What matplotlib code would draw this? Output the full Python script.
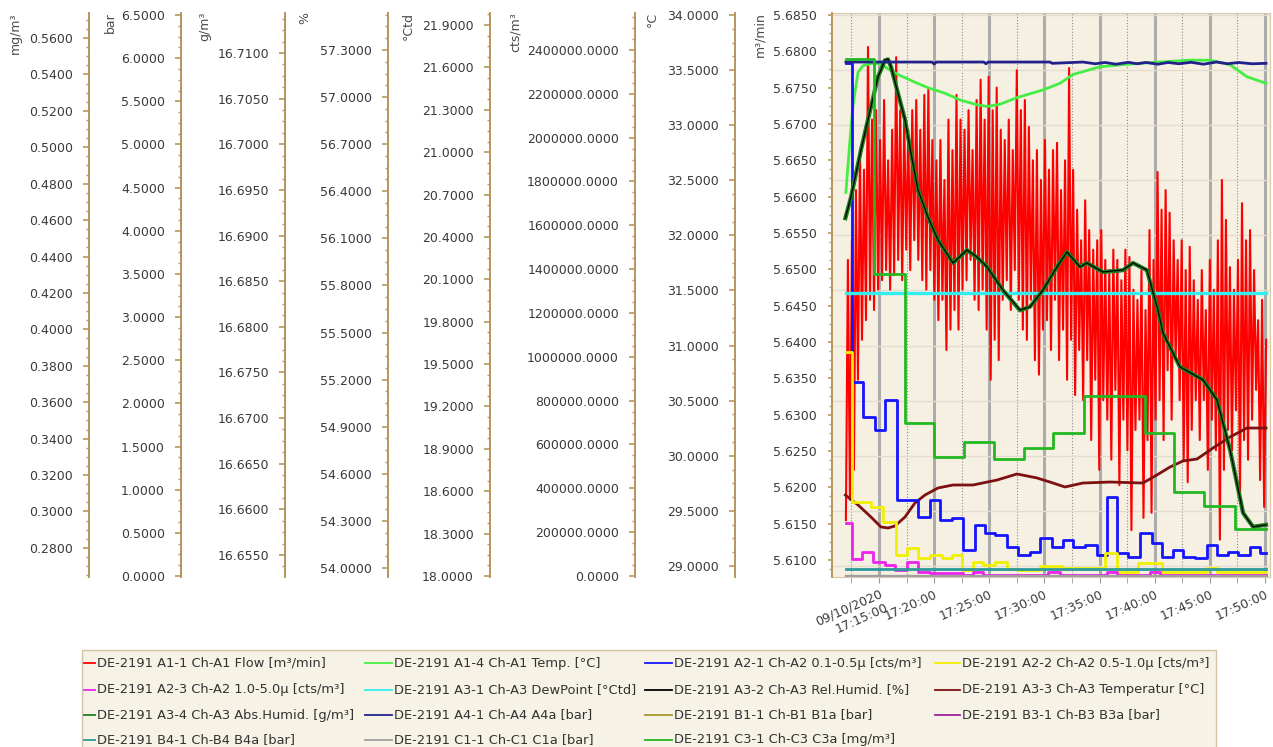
import numpy as np
import matplotlib
matplotlib.use('Agg')
import matplotlib.pyplot as plt
from matplotlib.lines import Line2D
from matplotlib.patches import Rectangle
from matplotlib.ticker import MultipleLocator, AutoMinorLocator, FormatStrFormatter, FixedLocator

# ---------------- data (time in minutes after 17:00) ----------------
x_ticks = [15, 20, 25, 30, 35, 40, 45, 50]
x_labels = ['09/10/2020\n17:15:00', '17:20:00', '17:25:00', '17:30:00',
            '17:35:00', '17:40:00', '17:45:00', '17:50:00']

# A1-1 Flow [m3/min], sampled evenly from 17:12:00 to 17:50:06
flow = [
    5.6155, 5.6513, 5.6183, 5.6540, 5.6224, 5.6609, 5.6348, 5.6664, 5.6403, 5.6637,
    5.6430, 5.6806, 5.6458, 5.6706, 5.6444, 5.6719, 5.6472, 5.6678, 5.6485, 5.6733,
    5.6499, 5.6650, 5.6472, 5.6692, 5.6492, 5.6792, 5.6513, 5.6719, 5.6485, 5.6706,
    5.6527, 5.6692, 5.6499, 5.6719, 5.6540, 5.6733, 5.6513, 5.6692, 5.6485, 5.6740,
    5.6472, 5.6747, 5.6499, 5.6678, 5.6458, 5.6650, 5.6430, 5.6678, 5.6458, 5.6623,
    5.6389, 5.6706, 5.6417, 5.6664, 5.6444, 5.6740, 5.6417, 5.6706, 5.6472, 5.6692,
    5.6485, 5.6719, 5.6513, 5.6664, 5.6458, 5.6733, 5.6444, 5.6761, 5.6472, 5.6706,
    5.6417, 5.6765, 5.6348, 5.6719, 5.6403, 5.6750, 5.6375, 5.6692, 5.6458, 5.6678,
    5.6485, 5.6706, 5.6444, 5.6664, 5.6499, 5.6774, 5.6458, 5.6719, 5.6417, 5.6733,
    5.6403, 5.6696, 5.6458, 5.6650, 5.6375, 5.6664, 5.6355, 5.6623, 5.6417, 5.6678,
    5.6430, 5.6637, 5.6389, 5.6664, 5.6458, 5.6674, 5.6375, 5.6609, 5.6417, 5.6650,
    5.6348, 5.6777, 5.6403, 5.6637, 5.6327, 5.6582, 5.6389, 5.6540, 5.6320, 5.6595,
    5.6375, 5.6554, 5.6265, 5.6527, 5.6348, 5.6540, 5.6224, 5.6554, 5.6320, 5.6513,
    5.6293, 5.6499, 5.6238, 5.6527, 5.6334, 5.6513, 5.6203, 5.6485, 5.6293, 5.6527,
    5.6251, 5.6517, 5.6141, 5.6472, 5.6279, 5.6458, 5.6293, 5.6499, 5.6158, 5.6444,
    5.6265, 5.6554, 5.6165, 5.6513, 5.6293, 5.6634, 5.6320, 5.6582, 5.6265, 5.6609,
    5.6361, 5.6578, 5.6293, 5.6540, 5.6375, 5.6513, 5.6320, 5.6540, 5.6238, 5.6499,
    5.6207, 5.6531, 5.6279, 5.6485, 5.6320, 5.6458, 5.6265, 5.6499, 5.6320, 5.6444,
    5.6224, 5.6513, 5.6293, 5.6472, 5.6251, 5.6540, 5.6128, 5.6623, 5.6224, 5.6568,
    5.6279, 5.6503, 5.6251, 5.6472, 5.6306, 5.6513, 5.6187, 5.6591, 5.6265, 5.6540,
    5.6238, 5.6554, 5.6293, 5.6499, 5.6334, 5.6430, 5.6210, 5.6458, 5.6173, 5.6403,
]
t_flow = np.linspace(12.0, 50.1, len(flow))

# A1-4 Temp. [°C]
t_temp = [12.0, 12.37, 12.64, 13.1, 13.55, 14.27, 15.09, 16.0, 16.72, 18.26, 19.44,
          20.98, 22.34, 23.7, 24.79, 25.97, 27.51, 29.87, 31.41, 32.59, 35.04, 37.13,
          39.84, 43.2, 45.0, 46.8, 48.36, 50.09]
temp = [32.39, 32.87, 33.18, 33.48, 33.54, 33.56, 33.56, 33.50, 33.46, 33.39, 33.34,
        33.29, 33.23, 33.19, 33.17, 33.19, 33.25, 33.32, 33.38, 33.46, 33.53, 33.55,
        33.57, 33.59, 33.59, 33.55, 33.44, 33.38]

# A2-1 / A2-2 / A2-3 particle counts [cts/m3] (stepped)
t_p01 = [12.0, 12.55, 13.55, 14.64, 15.54, 16.63, 18.54, 19.62, 20.53, 21.62, 22.62,
         23.7, 24.61, 25.52, 26.6, 27.6, 28.69, 29.6, 30.68, 31.68, 32.59, 33.68,
         34.77, 35.67, 36.58, 37.58, 38.67, 39.75, 40.66, 41.66, 42.56, 43.65, 44.74,
         45.64, 46.63, 47.55, 48.63, 49.54, 50.09]
p01 = [2340000, 885200, 725500, 666200, 803100, 346800, 269200, 346800, 255500, 264700,
       118600, 232700, 196200, 187100, 132300, 95800, 109500, 173400, 132300, 164300,
       132300, 141500, 95800, 360500, 104900, 86700, 196200, 150600, 86700, 118600,
       86700, 82100, 141500, 95800, 109500, 95800, 132300, 104900, 104900]

t_p05 = [12.0, 12.55, 14.27, 15.36, 16.54, 17.54, 18.54, 19.62, 20.71, 21.62, 22.53,
         23.52, 24.43, 25.52, 26.6, 27.6, 29.6, 31.59, 35.49, 36.58, 38.49, 40.66,
         44.74, 45.64, 50.09]
p05 = [1022100, 337700, 314800, 246400, 95800, 127800, 82100, 95800, 82100, 95800,
       27400, 63900, 50200, 63900, 31900, 27400, 45600, 36500, 104900, 18300, 59300,
       18300, 36500, 18300, 18300]

t_p10 = [12.0, 12.55, 13.46, 14.46, 15.54, 16.45, 17.54, 18.54, 19.62, 22.62, 23.52,
         24.43, 30.32, 31.41, 35.67, 36.58, 39.57, 40.47, 50.09]
p10 = [241800, 77600, 109500, 63900, 50200, 27400, 63900, 18300, 13700, 4600, 18300,
       4600, 18300, 4600, 18300, 4600, 18300, 4600, 4600]

# A3-1 DewPoint [°Ctd]
t_dew = [12.0, 50.09]
dew = [20.0, 20.0]

# A3-2 Rel.Humid. [%] and A3-4 Abs.Humid. [g/m3]
t_hum = [11.95, 12.46, 13.37, 14.27, 14.91, 15.54, 15.82, 16.09, 16.72, 17.36, 17.9,
         18.54, 19.44, 20.35, 21.71, 22.98, 23.88, 24.79, 26.24, 27.78, 28.69, 29.87,
         31.14, 32.04, 33.22, 33.85, 35.3, 37.12, 38.03, 39.29, 40.29, 40.75, 42.29,
         44.38, 45.64, 46.83, 48.01, 48.91, 50.09]
rel_hum = [56.230, 56.364, 56.663, 56.937, 57.128, 57.236, 57.243, 57.192, 57.026,
           56.854, 56.644, 56.408, 56.236, 56.090, 55.943, 56.026, 55.982, 55.918,
           55.771, 55.644, 55.663, 55.771, 55.918, 56.013, 55.918, 55.943, 55.886,
           55.899, 55.943, 55.899, 55.644, 55.497, 55.281, 55.198, 55.071, 54.752,
           54.351, 54.262, 54.275]
abs_hum = [16.6919, 16.6942, 16.6994, 16.7041, 16.7074, 16.7092, 16.7093, 16.7085,
           16.7056, 16.7027, 16.6990, 16.6950, 16.6920, 16.6895, 16.6870, 16.6884,
           16.6876, 16.6866, 16.6840, 16.6818, 16.6822, 16.6840, 16.6866, 16.6882,
           16.6866, 16.6870, 16.6860, 16.6862, 16.6870, 16.6862, 16.6818, 16.6793,
           16.6756, 16.6742, 16.6720, 16.6665, 16.6596, 16.6581, 16.6583]

# A3-3 Temperatur [°C]
t_t33 = [11.95, 13.1, 14.27, 15.18, 15.82, 16.45, 17.36, 18.26, 19.17, 20.35, 21.71,
         23.52, 25.7, 27.51, 29.32, 30.5, 31.86, 33.49, 35.94, 38.93, 40.2, 41.38,
         42.56, 43.84, 45.29, 46.83, 48.36, 50.09]
t33 = [29.644, 29.554, 29.445, 29.354, 29.345, 29.363, 29.445, 29.572, 29.644, 29.708,
       29.735, 29.735, 29.780, 29.835, 29.799, 29.762, 29.717, 29.753, 29.762, 29.753,
       29.826, 29.898, 29.953, 29.971, 30.071, 30.171, 30.252, 30.252]

# pressures [bar]
t_a4a = [12.0, 19.8, 20.0, 20.2, 24.5, 24.7, 24.9, 30.5, 30.7, 33.5, 34.6, 35.5, 36.5,
         37.6, 38.4, 39.2, 40.3, 41.2, 42.2, 43.3, 44.4, 45.6, 46.6, 47.6, 48.8, 50.09]
a4a = [5.955, 5.955, 5.932, 5.955, 5.955, 5.935, 5.955, 5.955, 5.940, 5.955, 5.935,
       5.950, 5.930, 5.952, 5.935, 5.950, 5.930, 5.950, 5.935, 5.952, 5.930, 5.955,
       5.935, 5.950, 5.935, 5.940]
t_bar = [12.0, 50.09]
b4a = [0.081, 0.081]
b1a = [0.0, 0.0]
b3a = [0.0, 0.0]
c1a = [0.0, 0.0]

# C3-1 C3a [mg/m3] (stepped)
t_c3a = [12.0, 14.55, 17.36, 19.99, 22.71, 25.43, 28.15, 30.78, 33.59, 39.12, 41.75,
         44.47, 47.28, 50.09]
c3a = [0.5485, 0.4304, 0.3486, 0.3299, 0.3381, 0.3288, 0.3349, 0.3431, 0.3634, 0.3431,
       0.3107, 0.3030, 0.2904, 0.2904]

# ---------------- figure ----------------
W, H = 1273, 747
tan = '#b8965c'
txt = '#3a3a3a'
fig = plt.figure(figsize=(W / 100, H / 100), dpi=100)
L, R, T, B = 832, 1270, 12.5, 576.5
host = fig.add_axes([L / W, 1 - B / H, (R - L) / W, (B - T) / H])
host.set_facecolor('#f6f0e2')
host.set_xlim(10.74, 50.45)
host.set_ylim(28.9047, 34.0227)   # °C scale drives the horizontal grid
host.yaxis.set_major_locator(MultipleLocator(0.5))
host.xaxis.set_major_locator(FixedLocator(x_ticks))
host.xaxis.set_minor_locator(MultipleLocator(2.5))
host.set_xticklabels(x_labels)
host.grid(axis='y', color='#e4ddcf', lw=1)
host.grid(axis='x', which='major', color='#acacac', lw=2.2)
host.grid(axis='x', which='minor', color='#8c8c8c', lw=0.8, ls=':')
host.spines['left'].set_visible(False)
for s in ['top', 'right', 'bottom']:
    host.spines[s].set_color('#d6c8a8')
host.tick_params(axis='x', which='both', direction='out', length=4, color='#9a9a9a',
                 labelsize=9, labelcolor=txt, pad=4)
plt.setp(host.get_xticklabels(), rotation=24, ha='right', rotation_mode='anchor')


def add_scale(pos, lo, hi, step, tick_len=4.3, pad=7.2):
    ax = host.twinx()
    ax.set_ylim(lo, hi)
    ax.yaxis.tick_left()
    for s in ['top', 'right', 'bottom']:
        ax.spines[s].set_visible(False)
    ax.spines['left'].set_position(('axes', pos))
    ax.spines['left'].set_color(tan)
    ax.spines['left'].set_linewidth(1.4)
    ax.yaxis.set_major_locator(MultipleLocator(step))
    ax.yaxis.set_minor_locator(AutoMinorLocator(4))
    ax.yaxis.set_major_formatter(FormatStrFormatter('%.4f'))
    ax.tick_params(axis='y', which='major', length=tick_len, width=1.2, color=tan,
                   pad=pad, labelsize=9, labelcolor=txt)
    ax.tick_params(axis='y', which='minor', length=2.2, width=1, color=tan)
    return ax


ax_flow = add_scale(0.0, 5.60773, 5.68534, 0.005, tick_len=2.9, pad=8)
ax_c = add_scale(-0.2215, 28.9047, 34.0227, 0.5)
ax_cts = add_scale(-0.4498, -2281, 2571100, 200000)
ax_ctd = add_scale(-0.7808, 17.9965, 21.9885, 0.3)
ax_gm3 = add_scale(-1.2489, 16.65264, 16.71444, 0.005)
ax_pct = add_scale(-1.0137, 53.9458, 57.5389, 0.3)
ax_bar = add_scale(-1.4863, -0.0058, 6.529, 0.5)
ax_mg = add_scale(-1.6963, 0.26428, 0.57400, 0.02)
host.tick_params(axis='y', which='both', left=False, right=False,
                 labelleft=False, labelright=False)

c_flow, c_temp, c_p01, c_p05 = '#ff0000', '#44ee44', '#1414ff', '#f0f000'
c_p10, c_dew, c_rel, c_t33 = '#ee22ee', '#33eeee', '#000000', '#7d1010'
c_abs, c_a4a, c_b1a, c_b3a = '#1e7d1e', '#22228c', '#a39a2a', '#a020a0'
c_b4a, c_c1a, c_c3a = '#2a9a9a', '#a0a0a0', '#22b822'

ax_flow.plot(t_flow, flow, color=c_flow, lw=1.5)
ax_c.plot(t_temp, temp, color=c_temp, lw=2)
ax_c.plot(t_t33, t33, color=c_t33, lw=2)
ax_cts.step(t_p01, p01, where='post', color=c_p01, lw=2)
ax_cts.step(t_p05, p05, where='post', color=c_p05, lw=2)
ax_cts.step(t_p10, p10, where='post', color=c_p10, lw=2)
ax_ctd.plot(t_dew, dew, color=c_dew, lw=2.4)
ax_gm3.plot(t_hum, abs_hum, color=c_abs, lw=3)
ax_pct.plot(t_hum, rel_hum, color=c_rel, lw=0.9)
ax_bar.plot(t_a4a, a4a, color=c_a4a, lw=2)
ax_bar.plot(t_bar, b1a, color=c_b1a, lw=1.5)
ax_bar.plot(t_bar, b3a, color=c_b3a, lw=1.5)
ax_bar.plot(t_bar, c1a, color=c_c1a, lw=1.5)
ax_bar.plot(t_bar, b4a, color=c_b4a, lw=2)
ax_mg.step(t_c3a, c3a, where='post', color=c_c3a, lw=2)

# unit captions at the top of each scale
units = ['mg/m³', 'bar', 'g/m³', '%', '°Ctd', 'cts/m³', '°C', 'm³/min']
unit_x = [15, 110, 205, 305, 408, 515, 652, 760]
for u, ux in zip(units, unit_x):
    fig.text(ux / W, 1 - 12 / H, u, rotation=90, ha='center', va='top',
             fontsize=9, color='#4a4a4a')

# legend, laid out row by row like the original
labels = ['DE-2191 A1-1 Ch-A1 Flow [m³/min]', 'DE-2191 A1-4 Ch-A1 Temp. [°C]',
          'DE-2191 A2-1 Ch-A2 0.1-0.5µ [cts/m³]', 'DE-2191 A2-2 Ch-A2 0.5-1.0µ [cts/m³]',
          'DE-2191 A2-3 Ch-A2 1.0-5.0µ [cts/m³]', 'DE-2191 A3-1 Ch-A3 DewPoint [°Ctd]',
          'DE-2191 A3-2 Ch-A3 Rel.Humid. [%]', 'DE-2191 A3-3 Ch-A3 Temperatur [°C]',
          'DE-2191 A3-4 Ch-A3 Abs.Humid. [g/m³]', 'DE-2191 A4-1 Ch-A4 A4a [bar]',
          'DE-2191 B1-1 Ch-B1 B1a [bar]', 'DE-2191 B3-1 Ch-B3 B3a [bar]',
          'DE-2191 B4-1 Ch-B4 B4a [bar]', 'DE-2191 C1-1 Ch-C1 C1a [bar]',
          'DE-2191 C3-1 Ch-C3 C3a [mg/m³]']
colors = [c_flow, c_temp, c_p01, c_p05, c_p10, c_dew, c_rel, c_t33,
          c_abs, c_a4a, c_b1a, c_b3a, c_b4a, c_c1a, c_c3a]

fig.add_artist(Rectangle((82 / W, -0.05), 1134 / W, 1 - 650 / H + 0.05,
                         transform=fig.transFigure, facecolor='#f7f2e6',
                         edgecolor='#d2c3a2', lw=1))
line_x = [(84, 95), (365, 392), (645, 672), (935, 960)]
row_y = [663, 690, 715, 740]
for i, (lab, c) in enumerate(zip(labels, colors)):
    r, k = divmod(i, 4)
    x0, x1 = line_x[k]
    yy = 1 - row_y[r] / H
    fig.add_artist(Line2D([x0 / W, x1 / W], [yy, yy],
                          transform=fig.transFigure, color=c, lw=1.3))
    fig.text((x1 + 2) / W, yy, lab, ha='left', va='center',
             fontsize=9.4, color='#333333')

fig.savefig('out.png', dpi=100)
